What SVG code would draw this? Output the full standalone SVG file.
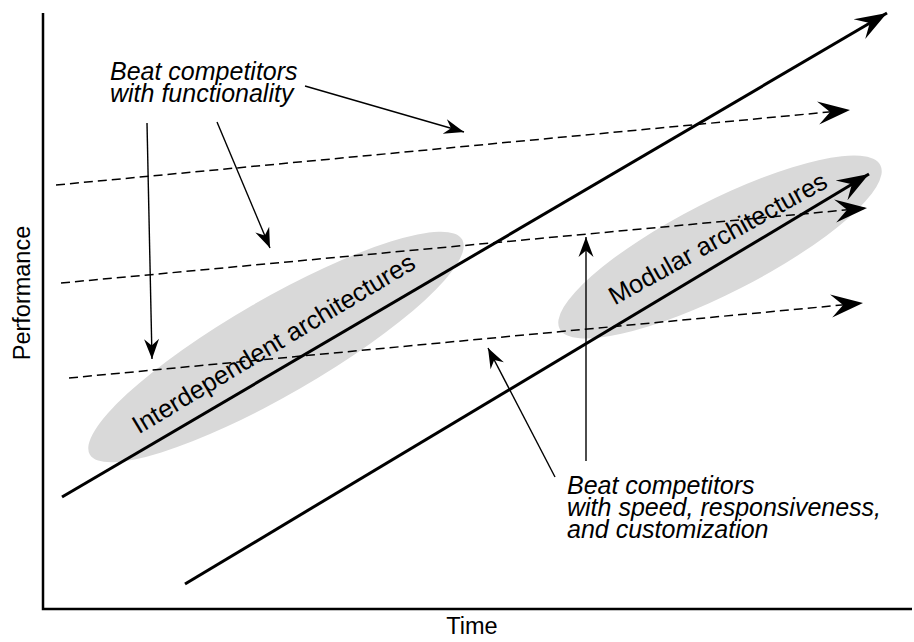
<svg xmlns="http://www.w3.org/2000/svg" width="914" height="642" viewBox="0 0 914 642">
<style>
.lbl{font-family:"Liberation Sans",Arial,sans-serif;font-size:23.5px;fill:#000}
.it{font-family:"Liberation Sans",Arial,sans-serif;font-size:25px;font-style:italic;fill:#000}
.arch{font-family:"Liberation Sans",Arial,sans-serif;font-size:25.5px;fill:#000}
.thick{stroke:#000;stroke-width:3;fill:none}
.dash{stroke:#000;stroke-width:1.5;fill:none;stroke-dasharray:9 5}
.thin{stroke:#000;stroke-width:1.4;fill:none}
.blob{fill:#d9d9d9}
</style>
<defs>
<marker id="big" markerUnits="userSpaceOnUse" viewBox="-33 -13 34 26" markerWidth="34" markerHeight="26" refX="0" refY="0" orient="auto">
<path d="M0,0 L-32,-11.5 L-20,0 L-32,11.5 Z" fill="#000"/>
</marker>
<marker id="small" markerUnits="userSpaceOnUse" viewBox="-21 -8 22 16" markerWidth="22" markerHeight="16" refX="0" refY="0" orient="auto">
<path d="M0,0 L-20,-7.5 L-13.5,0 L-20,7.5 Z" fill="#000"/>
</marker>
</defs>
<rect width="914" height="642" fill="#fff"/>
<g id="ellipses">
<ellipse id="interdependent-region" class="blob" cx="276" cy="347" rx="215" ry="48" transform="rotate(-30 276 347)"/>
<ellipse id="modular-region" class="blob" cx="720" cy="247" rx="180" ry="46" transform="rotate(-27 720 247)"/>
</g>
<g id="axes">
<path d="M43,13 L43,609 L912,609" stroke="#000" stroke-width="2.5" fill="none"/>
<text class="lbl" x="472" y="634" text-anchor="middle">Time</text>
<text class="lbl" x="0" y="0" text-anchor="middle" transform="translate(30 293) rotate(-90)">Performance</text>
</g>
<g id="connectors">
<line class="dash" x1="56" y1="185" x2="850" y2="110" marker-end="url(#big)"/>
<line class="dash" x1="61" y1="283" x2="867" y2="208" marker-end="url(#big)"/>
<line class="dash" x1="69" y1="378" x2="863" y2="303" marker-end="url(#big)"/>
<line class="thick" x1="62" y1="497" x2="887" y2="13" marker-end="url(#big)"/>
<line class="thick" x1="185" y1="584" x2="869" y2="174" marker-end="url(#big)"/>
<line class="thin" x1="305" y1="86" x2="464" y2="132" marker-end="url(#small)"/>
<line class="thin" x1="217" y1="122" x2="270" y2="248" marker-end="url(#small)"/>
<line class="thin" x1="147" y1="123" x2="152" y2="359" marker-end="url(#small)"/>
<line class="thin" x1="555" y1="477" x2="488" y2="348" marker-end="url(#small)"/>
<line class="thin" x1="586" y1="461" x2="586" y2="237" marker-end="url(#small)"/>
</g>
<g id="label-functionality">
<text class="it" x="110" y="80">Beat competitors</text>
<text class="it" x="110" y="102">with functionality</text>
</g>
<g id="label-speed">
<text class="it" x="567" y="494">Beat competitors</text>
<text class="it" x="567" y="516">with speed, responsiveness,</text>
<text class="it" x="567" y="538">and customization</text>
</g>
<g id="label-interdependent">
<text class="arch" x="0" y="0" text-anchor="middle" transform="translate(278 351) rotate(-31)">Interdependent architectures</text>
</g>
<g id="label-modular">
<text class="arch" x="0" y="0" text-anchor="middle" transform="translate(722 246) rotate(-29)">Modular architectures</text>
</g>
</svg>
